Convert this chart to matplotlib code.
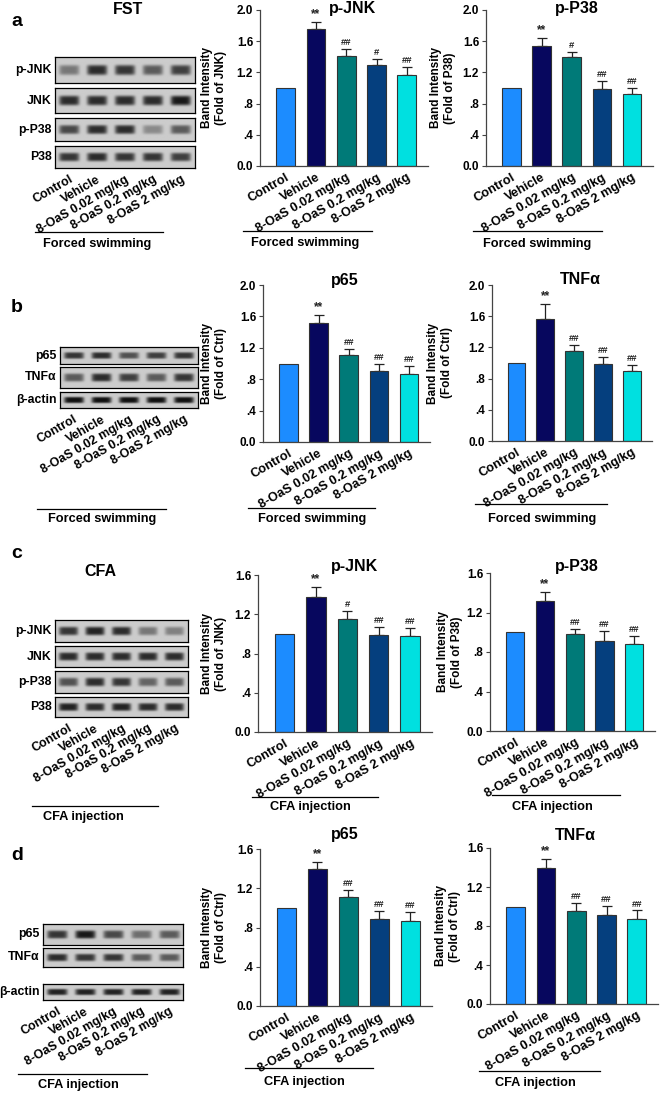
import matplotlib
matplotlib.use('Agg')
import matplotlib.pyplot as plt
import numpy as np
from matplotlib.lines import Line2D

plt.rcParams['font.family'] = ['Liberation Sans', 'DejaVu Sans']
plt.rcParams['font.weight'] = 'bold'
plt.rcParams['axes.labelweight'] = 'bold'

W, H = 666, 1093

groups = ['Control', 'Vehicle', '8-OaS 0.02 mg/kg', '8-OaS 0.2 mg/kg', '8-OaS 2 mg/kg']
bar_colors = ['#1c8cff', '#07075e', '#007a78', '#053f7e', '#00e0e0']

# bar data (mean, upper SEM, significance mark)
a_pjnk_mean = [1.00, 1.76, 1.41, 1.29, 1.17]
a_pjnk_err = [0.00, 0.09, 0.09, 0.08, 0.10]
a_pjnk_sig = ['', '**', '##', '#', '##']
a_pp38_mean = [1.00, 1.54, 1.40, 0.99, 0.92]
a_pp38_err = [0.00, 0.10, 0.06, 0.10, 0.08]
a_pp38_sig = ['', '**', '#', '##', '##']
b_p65_mean = [1.00, 1.52, 1.11, 0.90, 0.87]
b_p65_err = [0.00, 0.10, 0.07, 0.09, 0.10]
b_p65_sig = ['', '**', '##', '##', '##']
b_tnf_mean = [1.00, 1.56, 1.15, 0.99, 0.90]
b_tnf_err = [0.00, 0.20, 0.08, 0.09, 0.08]
b_tnf_sig = ['', '**', '##', '##', '##']
c_pjnk_mean = [1.00, 1.38, 1.15, 0.99, 0.98]
c_pjnk_err = [0.00, 0.10, 0.08, 0.08, 0.08]
c_pjnk_sig = ['', '**', '#', '##', '##']
c_pp38_mean = [1.00, 1.32, 0.98, 0.91, 0.88]
c_pp38_err = [0.00, 0.09, 0.05, 0.10, 0.08]
c_pp38_sig = ['', '**', '##', '##', '##']
d_p65_mean = [1.00, 1.40, 1.11, 0.89, 0.87]
d_p65_err = [0.00, 0.07, 0.07, 0.08, 0.09]
d_p65_sig = ['', '**', '##', '##', '##']
d_tnf_mean = [1.00, 1.39, 0.95, 0.91, 0.87]
d_tnf_err = [0.00, 0.10, 0.09, 0.10, 0.09]
d_tnf_sig = ['', '**', '##', '##', '##']

# western blot band darkness per lane (0 = none, 1 = saturated)
a_blot_names = ['p-JNK', 'JNK', 'p-P38', 'P38']
a_blot_levels = [[0.45, 0.85, 0.80, 0.60, 0.75],
                 [0.85, 0.85, 0.85, 0.85, 0.95],
                 [0.70, 0.85, 0.85, 0.35, 0.60],
                 [0.80, 0.85, 0.80, 0.80, 0.75]]
b_blot_names = ['p65', 'TNFα', 'β-actin']
b_blot_levels = [[0.80, 0.85, 0.65, 0.75, 0.80],
                 [0.60, 0.85, 0.75, 0.60, 0.80],
                 [1.00, 1.00, 1.00, 1.00, 1.00]]
c_blot_names = ['p-JNK', 'JNK', 'p-P38', 'P38']
c_blot_levels = [[0.80, 0.90, 0.85, 0.45, 0.40],
                 [0.85, 0.85, 0.85, 0.85, 0.85],
                 [0.65, 0.85, 0.80, 0.55, 0.60],
                 [0.90, 0.85, 0.90, 0.85, 0.85]]
d_blot_names = ['p65', 'TNFα', 'β-actin']
d_blot_levels = [[0.80, 0.95, 0.70, 0.50, 0.60],
                 [0.85, 0.80, 0.80, 0.60, 0.60],
                 [0.90, 0.90, 0.90, 0.90, 0.90]]

LAB_FS = 9.2


def px(x0, y0, x1, y1):
    return [x0 / W, 1 - y1 / H, (x1 - x0) / W, (y1 - y0) / H]


def ftext(x, y, s, **kw):
    fig.text(x / W, 1 - y / H, s, **kw)


def hline(x0, x1, y):
    fig.add_artist(Line2D([x0 / W, x1 / W], [1 - y / H] * 2,
                          transform=fig.transFigure, color='black', lw=0.9))


def band_image(levels, nx=220, ny=30):
    x = np.linspace(-0.5, 4.5, nx)
    y = np.linspace(0, 1, ny)
    X, Y = np.meshgrid(x, y)
    img = np.full_like(X, 0.80)
    for i, lv in enumerate(levels):
        shape = np.exp(-((X - i) / 0.36) ** 6) * np.exp(-((Y - 0.5) / 0.2) ** 4)
        img -= 0.74 * lv * shape
    return img


def blot(names, levels, x0, x1, rows):
    ax = None
    for name, lv, (yt, yb) in zip(names, levels, rows):
        ax = fig.add_axes(px(x0, yt, x1, yb))
        ax.imshow(band_image(lv), cmap='gray', vmin=0, vmax=1, aspect='auto',
                  extent=(-0.5, 4.5, 1, 0))
        ax.set_yticks([])
        ax.set_xticks([])
        for sp in ax.spines.values():
            sp.set_linewidth(0.9)
        ax.text(-0.025, 0.5, name, transform=ax.transAxes, ha='right',
                va='center', fontsize=8.8, fontweight='bold')
    ax.set_xticks(range(5))
    ax.set_xticklabels(groups, rotation=30, ha='right', rotation_mode='anchor',
                       fontsize=LAB_FS - 0.3, fontweight='bold')
    ax.tick_params(axis='x', length=0, pad=4)


def bar_chart(rect, mean, err, sig, ymax, title, title_xy, ylab, ylab_x):
    ax = fig.add_axes(px(*rect))
    x = np.arange(len(mean))
    ax.bar(x, mean, width=0.62, color=bar_colors, edgecolor='#333333', lw=0.8, zorder=2)
    idx = [i for i in x if err[i] > 0]
    ax.errorbar(idx, [mean[i] for i in idx], yerr=[[0] * len(idx), [err[i] for i in idx]],
                fmt='none', ecolor='#222222', elinewidth=0.9, capsize=3.5, capthick=0.9, zorder=1)
    for i in x:
        if sig[i]:
            fs = 8.5 if sig[i] == '**' else 6.8
            ax.text(i, mean[i] + err[i] + ymax * 0.012, sig[i], ha='center',
                    va='bottom', fontsize=fs, color='#222222')
    ax.set_xlim(-0.85, 4.7)
    ax.set_ylim(0, ymax)
    ticks = np.arange(0, ymax + 0.01, 0.4)
    ax.set_yticks(ticks)
    ax.set_yticklabels(['0.0' if t == 0 else f'{t:.1f}'.lstrip('0') for t in ticks],
                       fontsize=8.5, fontweight='bold')
    ax.set_xticks(x)
    ax.set_xticklabels(groups, rotation=30, ha='right', rotation_mode='anchor',
                       fontsize=LAB_FS, fontweight='bold')
    ax.tick_params(axis='x', length=0, pad=4)
    ax.tick_params(axis='y', length=3, width=0.8, direction='out', pad=2, color='#444444')
    for s in ['top', 'right']:
        ax.spines[s].set_visible(False)
    for s in ['left', 'bottom']:
        ax.spines[s].set_linewidth(0.9)
        ax.spines[s].set_color('#444444')
    ax.set_ylabel('Band Intensity\n(Fold of %s)' % ylab, fontsize=8.5, fontweight='bold',
                  linespacing=1.2)
    ax.yaxis.set_label_coords((ylab_x - rect[0]) / (rect[2] - rect[0]), 0.5)
    ftext(title_xy[0], title_xy[1], title, ha='center', va='center',
          fontsize=11.5, fontweight='bold')
    return ax


fig = plt.figure(figsize=(6.66, 10.93), dpi=100)

# panel letters and headings
ftext(17, 22, 'a', ha='center', va='center', fontsize=14, fontweight='bold')
ftext(17, 308, 'b', ha='center', va='center', fontsize=14, fontweight='bold')
ftext(17, 553, 'c', ha='center', va='center', fontsize=14, fontweight='bold')
ftext(17, 855, 'd', ha='center', va='center', fontsize=14, fontweight='bold')
ftext(128, 10, 'FST', ha='center', va='center', fontsize=11.5, fontweight='bold')
ftext(100, 572, 'CFA', ha='center', va='center', fontsize=11.5, fontweight='bold')

# blots
blot(a_blot_names, a_blot_levels, 55, 195, [(57, 83), (88, 113), (118, 141), (146, 168)])
blot(b_blot_names, b_blot_levels, 60, 198, [(347, 364), (367, 388), (392, 408)])
blot(c_blot_names, c_blot_levels, 55, 188, [(620, 642), (646, 667), (671, 693), (697, 717)])
blot(d_blot_names, d_blot_levels, 43, 183, [(924, 945), (948, 967), (984, 1000)])

# bar charts
bar_chart((260, 10, 428, 166), a_pjnk_mean, a_pjnk_err, a_pjnk_sig, 2.0, 'p-JNK', (353, 8), 'JNK', 227)
bar_chart((486, 10, 653, 166), a_pp38_mean, a_pp38_err, a_pp38_sig, 2.0, 'p-P38', (577, 8), 'P38', 456)
bar_chart((263, 285, 430, 442), b_p65_mean, b_p65_err, b_p65_sig, 2.0, 'p65', (345, 280), 'Ctrl', 227)
bar_chart((492, 285, 652, 441), b_tnf_mean, b_tnf_err, b_tnf_sig, 2.0, 'TNFα', (580, 280), 'Ctrl', 453)
bar_chart((258, 575, 432, 732), c_pjnk_mean, c_pjnk_err, c_pjnk_sig, 1.6, 'p-JNK', (355, 567), 'JNK', 227)
bar_chart((490, 573, 655, 731), c_pp38_mean, c_pp38_err, c_pp38_sig, 1.6, 'p-P38', (577, 567), 'P38', 463)
bar_chart((260, 849, 432, 1006), d_p65_mean, d_p65_err, d_p65_sig, 1.6, 'p65', (345, 835), 'Ctrl', 227)
bar_chart((490, 848, 658, 1004), d_tnf_mean, d_tnf_err, d_tnf_sig, 1.6, 'TNFα', (575, 835), 'Ctrl', 461)

# group underlines and captions
captions = [
    (35, 163, 232, 97, 244, 'Forced swimming'),
    (243, 372, 231, 305, 243, 'Forced swimming'),
    (473, 602, 231, 537, 244, 'Forced swimming'),
    (37, 166, 509, 102, 519, 'Forced swimming'),
    (248, 375, 508, 312, 519, 'Forced swimming'),
    (475, 607, 504, 542, 519, 'Forced swimming'),
    (32, 158, 806, 83, 817, 'CFA injection'),
    (252, 378, 797, 310, 807, 'CFA injection'),
    (492, 620, 795, 552, 807, 'CFA injection'),
    (18, 147, 1074, 78, 1085, 'CFA injection'),
    (245, 373, 1068, 304, 1082, 'CFA injection'),
    (479, 600, 1071, 535, 1083, 'CFA injection'),
]
for x0, x1, y, tx, ty, s in captions:
    hline(x0, x1, y)
    ftext(tx, ty, s, ha='center', va='center', fontsize=9.2, fontweight='bold')

fig.savefig('out.png', dpi=100)
